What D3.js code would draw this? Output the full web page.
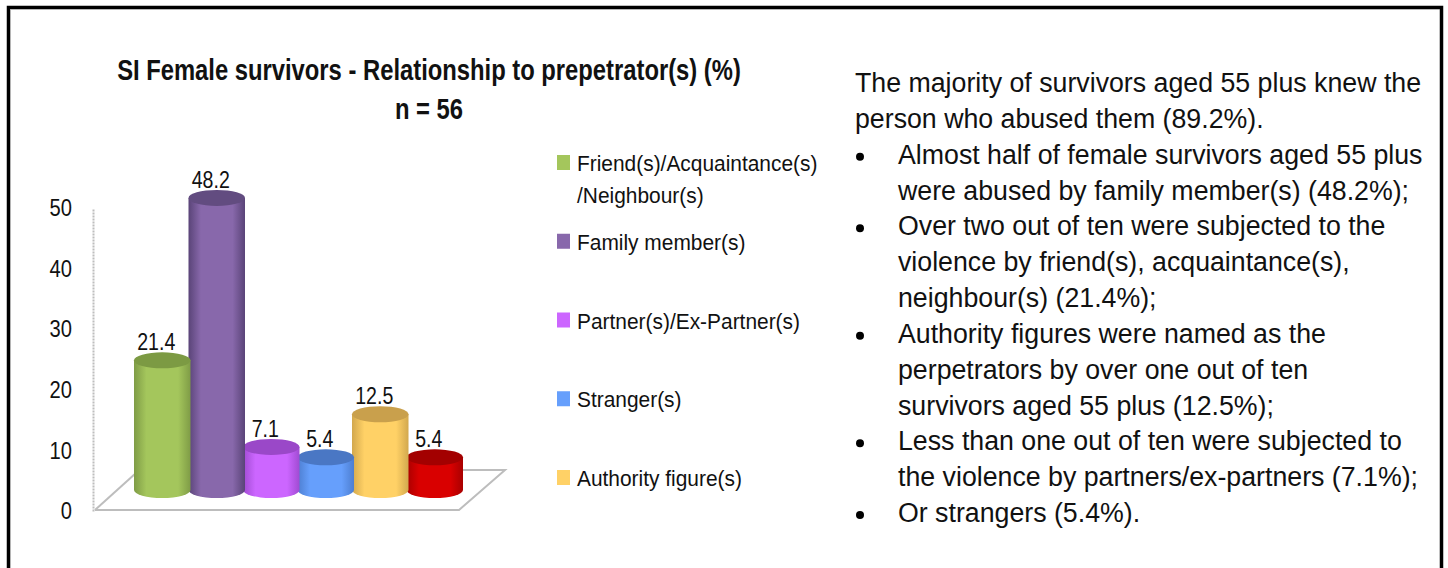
<!DOCTYPE html>
<html>
<head>
<meta charset="utf-8">
<script src="https://cdn.jsdelivr.net/npm/d3@7"></script>
<style>
  html, body { margin: 0; padding: 0; background: #fff; }
  svg { display: block; }
  text { fill: #111; font-family: "Liberation Sans", sans-serif; }
</style>
</head>
<body>
<div id="chart"></div>
<script>
// Data
const categories = ["Friend(s)", "Family member(s)", "Partner(s)", "Stranger(s)", "Authority figure(s)", "Other"];
const values = [21.4, 48.2, 7.1, 5.4, 12.5, 5.4];
const yTicks = [0, 10, 20, 30, 40, 50];
const legendLabels = [
  ["Friend(s)/Acquaintance(s)", "/Neighbour(s)"],
  ["Family member(s)"],
  ["Partner(s)/Ex-Partner(s)"],
  ["Stranger(s)"],
  ["Authority figure(s)"]
];
const barColors = ["#a4c65c", "#8868ab", "#cc66ff", "#669ffc", "#ffd166", "#d90000"];
const topColors = ["#7c9a43", "#624c80", "#9a48c8", "#4a77c4", "#c9a04c", "#a30000"];
const edgeColors = ["#7f9c46", "#5a4478", "#a04bd2", "#4d7ed0", "#d2a84e", "#a80000"];
const titleLines = ["SI Female survivors - Relationship to prepetrator(s) (%)", "n = 56"];
const bodyLines = [
  { text: "The majority of survivors aged 55 plus knew the", bullet: false },
  { text: "person who abused them (89.2%).", bullet: false },
  { text: "Almost half of female survivors aged 55 plus", bullet: true },
  { text: "were abused by family member(s) (48.2%);", bullet: false },
  { text: "Over two out of ten were subjected to the", bullet: true },
  { text: "violence by friend(s), acquaintance(s),", bullet: false },
  { text: "neighbour(s) (21.4%);", bullet: false },
  { text: "Authority figures were named as the", bullet: true },
  { text: "perpetrators by over one out of ten", bullet: false },
  { text: "survivors aged 55 plus (12.5%);", bullet: false },
  { text: "Less than one out of ten were subjected to", bullet: true },
  { text: "the violence by partners/ex-partners (7.1%);", bullet: false },
  { text: "Or strangers (5.4%).", bullet: true }
];

const width = 1448;
const height = 568;

const svg = d3.select("#chart")
  .append("svg")
  .attr("width", width)
  .attr("height", height);

// The reference font is narrower than anything installed, so squeeze the glyphs
function squeeze(selection, k) {
  selection.each(function () {
    this.setAttribute("textLength", this.getComputedTextLength() * k);
    this.setAttribute("lengthAdjust", "spacingAndGlyphs");
  });
}

// Black frame, open at the bottom edge of the page
svg.append("rect")
  .attr("x", 8.5).attr("y", 7.5)
  .attr("width", 1433).attr("height", 568)
  .attr("fill", "none")
  .attr("stroke", "#000")
  .attr("stroke-width", 3.5);
svg.append("path")
  .attr("d", d3.line()([[10.5, 568], [10.5, 9.5], [1439, 9.5]]))
  .attr("fill", "none")
  .attr("stroke", "#b5b5b5");

// Title
svg.append("g").selectAll("text")
  .data(titleLines)
  .join("text")
  .attr("x", 429)
  .attr("y", (d, i) => 80 + i * 39)
  .attr("text-anchor", "middle")
  .attr("font-size", 29)
  .attr("font-weight", "bold")
  .text(d => d)
  .call(squeeze, 0.82);

// Scales. The wall sits 21px behind the front of the bars (fake 3D depth)
const depthY = 21;
const yScale = d3.scaleLinear().domain([0, 50]).range([511, 208]);
const xScale = d3.scaleBand().domain(categories).range([135, 462]);

const wallX = 93;

// Floor and wall
const floorColor = "#bdbdbd";
const floor = d3.line();
svg.append("path")
  .attr("d", floor([[95, 510], [459, 510], [505, 470], [460, 470]]))
  .attr("fill", "none").attr("stroke", floorColor).attr("stroke-width", 2);
svg.append("path")
  .attr("d", floor([[95, 510], [136, 473]]))
  .attr("fill", "none").attr("stroke", floorColor).attr("stroke-width", 2);

// Axis
const axis = svg.append("g")
  .attr("transform", `translate(${wallX},0)`)
  .call(d3.axisLeft(yScale).tickValues(yTicks).tickSize(0).tickPadding(21));
axis.select(".domain")
  .attr("stroke", floorColor)
  .attr("stroke-width", 2)
  .attr("stroke-dasharray", "2 1");
axis.selectAll("text")
  .attr("font-family", "Liberation Sans")
  .attr("font-size", 24)
  .attr("fill", "#111")
  .call(squeeze, 0.84);

// Gradients for the cylinders
const defs = svg.append("defs");
categories.forEach((c, i) => {
  const grad = defs.append("linearGradient").attr("id", `cyl${i}`);
  grad.append("stop").attr("offset", "0%").attr("stop-color", edgeColors[i]);
  grad.append("stop").attr("offset", "22%").attr("stop-color", barColors[i]);
  grad.append("stop").attr("offset", "78%").attr("stop-color", barColors[i]);
  grad.append("stop").attr("offset", "100%").attr("stop-color", edgeColors[i]);
});

// Cylinders, right to left so left ones overlap
const rx = xScale.bandwidth() / 2 + 1;
const ry = 8;
const barData = values.map((v, i) => ({ v, i, cat: categories[i] })).reverse();

const bars = svg.append("g").selectAll("g")
  .data(barData)
  .join("g")
  .attr("transform", d => `translate(${xScale(d.cat) + xScale.bandwidth() / 2},0)`);

bars.append("path")
  .attr("d", d => {
    const top = yScale(d.v) - depthY;
    const bottom = yScale(0) - depthY;
    return `M${-rx},${top}L${-rx},${bottom}A${rx},${ry} 0 0 0 ${rx},${bottom}L${rx},${top}Z`;
  })
  .attr("fill", d => `url(#cyl${d.i})`);

bars.append("ellipse")
  .attr("cx", 0)
  .attr("cy", d => yScale(d.v) - depthY)
  .attr("rx", rx)
  .attr("ry", ry)
  .attr("fill", d => topColors[d.i]);

// Value labels go on top of every cylinder
svg.append("g").selectAll("text")
  .data(barData)
  .join("text")
  .attr("x", d => xScale(d.cat) + xScale.bandwidth() / 2 - 6)
  .attr("y", d => yScale(d.v) - depthY - 10)
  .attr("text-anchor", "middle")
  .attr("font-size", 23)
  .text(d => d.v)
  .call(squeeze, 0.85);

// Legend
const legendY = d3.scalePoint()
  .domain(legendLabels.map(d => d[0]))
  .range([163, 478]);

const legend = svg.append("g").selectAll("g")
  .data(legendLabels)
  .join("g")
  .attr("transform", d => `translate(557,${legendY(d[0])})`);

legend.append("rect")
  .attr("x", 0).attr("y", -8)
  .attr("width", 13).attr("height", 15)
  .attr("fill", (d, i) => barColors[i]);

legend.selectAll("text")
  .data(d => d)
  .join("text")
  .attr("x", 20)
  .attr("y", (d, i) => 8 + i * 32)
  .attr("font-size", 22)
  .text(d => d)
  .call(squeeze, 0.95);

// Body text on the right
const lineY = d3.scaleLinear().domain([0, 12]).range([92, 522]);

const body = svg.append("g").selectAll("g")
  .data(bodyLines)
  .join("g")
  .attr("transform", (d, i) => `translate(0,${lineY(i)})`);

body.append("text")
  .attr("x", (d, i) => i < 2 ? 855 : 898)
  .attr("font-size", 27)
  .text(d => d.text)
  .call(squeeze, 0.99);

body.filter(d => d.bullet)
  .append("circle")
  .attr("cx", 860)
  .attr("cy", -7)
  .attr("r", 4)
  .attr("fill", "#000");
</script>
</body>
</html>
